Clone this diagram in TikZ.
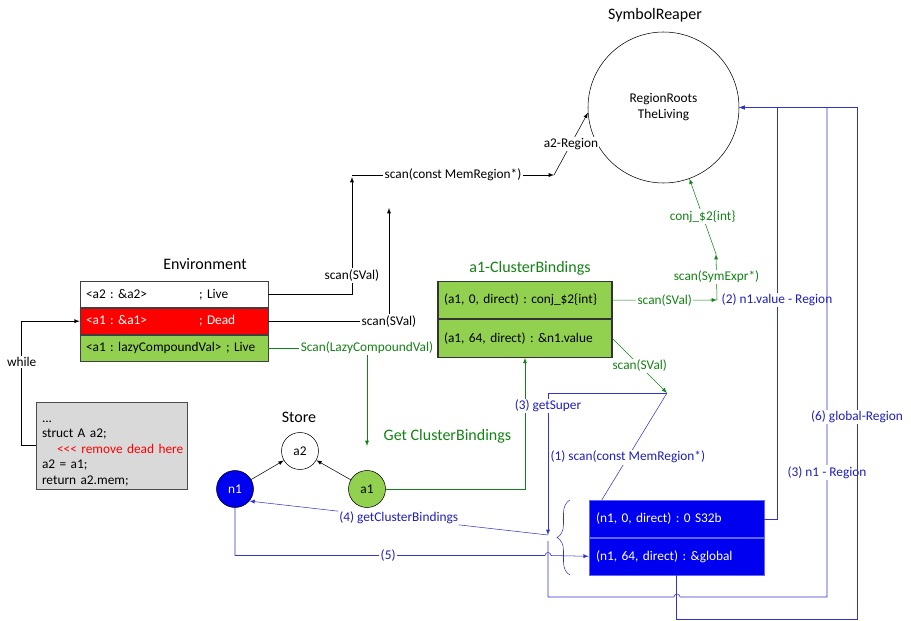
\documentclass[tikz,border=0pt]{standalone}
\usepackage{fontspec}
\setmainfont{Carlito}
\usepackage{tikz}
\usetikzlibrary{arrows, decorations.pathreplacing}
\tikzset{>=latex}
\frenchspacing
\definecolor{mygreen1}{RGB}{146, 208, 80}
\definecolor{mygray1}{RGB}{217, 217, 217}
\definecolor{lgreen}{RGB}{20, 130, 20}
\definecolor{lblue}{RGB}{50, 50, 210}
\definecolor{tblue}{RGB}{30, 30, 190}
\definecolor{fblue}{RGB}{0, 0, 240}
\newcommand{\envcell}[2]{\makebox[84.75pt][l]{#1}#2}
\tikzset{
  lbl/.style={fill=white, inner sep=1pt},
  ttl/.style={font=\fontsize{12}{14}\selectfont},
  envrow/.style={draw=black!75, minimum width=141pt, minimum height=19.7pt, text width=132pt, align=left, inner xsep=4.5pt, inner ysep=0pt},
  cbrow/.style={draw=black!80, thick, fill=mygreen1, minimum width=130.5pt, minimum height=28pt, text width=121.5pt, align=left, inner xsep=4.5pt, inner ysep=0pt},
  nbrow/.style={draw=fblue!60!white, fill=fblue, text=white, minimum width=131.25pt, minimum height=27.75pt, text width=120.75pt, align=left, inner xsep=5.25pt, inner ysep=0pt},
  st/.style={circle, draw, minimum size=27.75pt, inner sep=0pt},
  bline/.style={color=lblue},
  gline/.style={color=lgreen}
}

\begin{document}
\begin{tikzpicture}[x=0.75pt, y=-0.75pt]
\useasboundingbox (0,0) rectangle (911,621);

% reaper
\node[circle, draw, minimum size=113.25pt, align=center, inner sep=0pt, font=\fontsize{10}{12}\selectfont] (reaper) at (663.5,107.5) {RegionRoots\\TheLiving};
\node[ttl] (ttlReaper) at (655,15) {SymbolReaper};

% environment
\node[ttl] (ttlEnv) at (205,264) {Environment};
\node[envrow, anchor=north] (envA) at (174,281) {\envcell{<a2 : \&a2>}{; Live}};
\node[envrow, anchor=north, fill=red, text=white] (envB) at (envA.south) {\envcell{<a1 : \&a1>}{; Dead}};
\node[envrow, anchor=north, fill=mygreen1] (envC) at (envB.south) {<a1 : lazyCompoundVal> ; Live};

% code
\node[draw=black!70, fill=mygray1, text width=104.25pt, minimum height=65.25pt, align=left, inner xsep=4.5pt, inner ysep=0pt, font=\fontsize{10}{11.6}\selectfont] (code) at (111.5,445.5)
  {\rule{0pt}{13pt}...\\ struct A a2;\\ \hspace*{11.25pt}\makebox[0pt][l]{\textcolor{red}{<{}<{}< remove dead here}}\\ a2 = a1;\\ return a2.mem;};

% store
\node[ttl] (ttlStore) at (299,417) {Store};
\node[st] (sa2) at (300,451) {a2};
\node[st, fill=fblue, text=white] (sn1) at (235,489) {n1};
\node[st, fill=mygreen1] (sa1) at (367,489) {a1};

% cluster bindings
\node[ttl, text=lgreen] (ttlCb) at (530,268) {a1-ClusterBindings};
\node[cbrow, anchor=north] (cbA) at (525,281) {(a1, 0, direct) : conj\_\$2\{int\}};
\node[cbrow, anchor=north] (cbB) at (cbA.south) {(a1, 64, direct) : \&n1.value};

\node[nbrow, anchor=north] (nbA) at (676.5,500) {(n1, 0, direct) : 0 S32b};
\node[nbrow, anchor=north] (nbB) at (nbA.south) {(n1, 64, direct) : \&global};

\coordinate (upA) at (352,177);
\coordinate (topL) at (352,175);
\coordinate (topR) at (554,175);
\coordinate (upB) at (389,208);
\coordinate (getC) at (367,446);
\coordinate (scanP) at (667,393);
\coordinate (symJ) at (717,300);
\coordinate (symK) at (716,254);
\coordinate (brJ) at (548,535);
\coordinate (brK) at (548,541);
\coordinate (jmpA) at (545,555.5);
\coordinate (jmpB) at (674,597);
\coordinate (btC) at (857,619);
\coordinate (rtA) at (777,107.5);
\coordinate (rtB) at (827,107.5);
\coordinate (rtC) at (857,107.5);

% black
\draw[->] (envA.east) -| node[lbl, pos=0.58] {scan(SVal)} (upA);
\draw[->] (topL) -- node[lbl] {scan(const MemRegion*)} (topR);
\draw[->] (topR) -- node[lbl] {a2-Region} (reaper.184);
\draw[->] (envB.east) -| node[lbl, pos=0.5] {scan(SVal)} (upB);
\draw[->] (code.west) -- ++(-14,0) |- node[lbl, pos=0.336] {while} (envB.west);
\draw[->] (sn1) -- (sa2);
\draw[->] (sa1) -- (sa2);

% green
\draw[gline, ->] (envC.east) -| node[lbl, text=lgreen, pos=0.5] {Scan(LazyCompoundVal)}
  node[ttl, text=lgreen, pos=0.95, anchor=west, xshift=9pt] {Get ClusterBindings} (getC);
\draw[gline, ->] (sa1.east) -| (cbB.south);
\draw[gline, ->] (cbA.east) -- node[lbl, text=lgreen] {scan(SVal)} (symJ);
\draw[gline, ->] (symJ) -- node[lbl, text=lgreen] {scan(SymExpr*)} (symK);
\draw[gline, ->] (symK) -- node[lbl, text=lgreen] {conj\_\$2\{int\}} (reaper.290);
\draw[gline, ->] (cbB.east) -- node[lbl, text=lgreen] {scan(SVal)} (scanP);

% blue
\draw[bline] (scanP) -- node[lbl, text=tblue, pos=0.6] {(1) scan(const MemRegion*)} ([xshift=9.75pt]nbA.north west);
\draw[bline, ->] (scanP) -| node[lbl, text=tblue, pos=0.546] {(3) getSuper} (brJ);
\draw[bline, ->] (brJ) -- node[lbl, text=tblue] {(4) getClusterBindings} (sn1.-40);
\draw[bline, decorate, decoration={brace, amplitude=9.75pt}] (570,575) -- (570,500);
\draw[bline, ->] (sn1.south) |- node[lbl, text=tblue, pos=0.747] {(5)} (jmpA) arc[start angle=180, end angle=0, radius=2.25pt] -- (nbB.west);
\draw[bline, ->] (nbA.east) -| node[lbl, text=tblue, pos=0.766] {(2) n1.value - Region} (rtA) -- (reaper.east);
\draw[bline, ->] (brK) |- (jmpB) arc[start angle=180, end angle=0, radius=2.25pt] -| node[lbl, text=tblue, pos=0.627] {(3) n1 - Region} (rtB) -- (reaper.east);
\draw[bline, ->] (nbB.south) |- (btC) -- node[lbl, text=tblue, pos=0.395] {(6) global-Region} (rtC) -- (reaper.east);

\end{tikzpicture}
\end{document}
